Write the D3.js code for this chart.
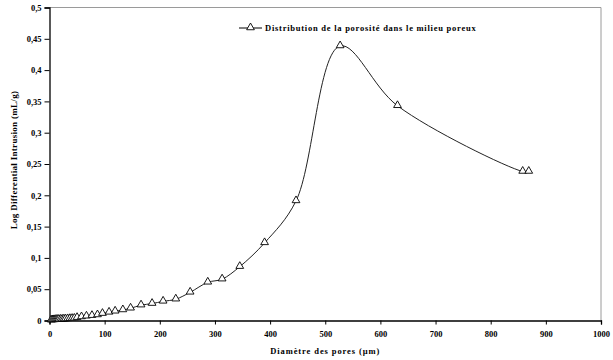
<!DOCTYPE html>
<html>
<head>
<meta charset="utf-8">
<script src="https://cdn.jsdelivr.net/npm/d3@7"></script>
<style>
  body { margin: 0; background: #fff; }
  text { font-family: "Liberation Serif", "Times New Roman", serif; font-weight: bold; }
</style>
</head>
<body>
<div id="root"></div>
<script>
// pore diameter (µm) and log differential intrusion (mL/g)
let diametre = [3, 5, 7, 9, 11, 13, 15, 17, 20, 23, 26, 29, 33, 37, 41, 45,
  50, 58, 67, 77, 87, 96, 108, 119, 133, 147, 166, 186, 206, 229, 255, 287,
  313, 345, 390, 447, 527, 631, 858, 869]
let intrusion = [0.0005, 0.0007, 0.0009, 0.001, 0.0012, 0.0013, 0.0014, 0.0015,
  0.0016, 0.0018, 0.002, 0.0022, 0.0025, 0.0028, 0.003, 0.0033,
  0.0045, 0.0056, 0.0067, 0.0077, 0.0088, 0.011, 0.013, 0.0147, 0.0168, 0.0195,
  0.0245, 0.027, 0.0306, 0.034, 0.045, 0.061, 0.066, 0.086, 0.124, 0.191,
  0.4385, 0.343, 0.238, 0.238]
let xTicks = [0, 100, 200, 300, 400, 500, 600, 700, 800, 900, 1000]
let yTicks = [0, 0.05, 0.1, 0.15, 0.2, 0.25, 0.3, 0.35, 0.4, 0.45, 0.5]
let seriesName = 'Distribution de la porosité dans le milieu poreux'

let W = 613, H = 360
let m = {l: 49.5, r: 12, t: 7.5, b: 39.5}

let svg = d3.select('#root').append('svg')
  .attr('width', W).attr('height', H)

let x = d3.scaleLinear().domain([0, 1000]).range([m.l, W - m.r])
let y = d3.scaleLinear().domain([0, 0.5]).range([H - m.b, m.t])

let fmt = d => String(d).replace('.', ',')

// frame (top & right grey)
svg.append('path')
   .attr('d', `M${x(0)},${y(0.5)}H${x(1000)}V${y(0)}`)
   .attr('fill', 'none').attr('stroke', '#9a9a9a').attr('stroke-width', 1)

let xAxis = svg.append('g')
  .attr('transform', `translate(0,${y(0)})`)
  .call(d3.axisBottom(x).tickValues(xTicks).tickSize(4).tickFormat(d3.format('d')))
let yAxis = svg.append('g')
  .attr('transform', `translate(${x(0)},0)`)
  .call(d3.axisLeft(y).tickValues(yTicks).tickSize(5).tickFormat(fmt))

for (let g of [xAxis, yAxis]) {
  g.select('.domain').attr('stroke', '#000').attr('stroke-width', 1.3)
  g.selectAll('.tick line').attr('stroke', '#000')
  g.selectAll('text').attr('font-size', 8.5).attr('fill', '#000')
    .style('font-family', '"Liberation Serif", serif').style('font-weight', 'bold')
}
xAxis.selectAll('text').attr('dy', '0').attr('y', 16)
yAxis.selectAll('text').attr('x', -8).attr('dy', '0.32em')

let pts = diametre.map((d, i) => [d, intrusion[i]])

svg.append('path')
   .datum(pts)
   .attr('d', d3.line().x(d => x(d[0])).y(d => y(d[1])).curve(d3.curveCatmullRom.alpha(0.5)))
   .attr('fill', 'none').attr('stroke', '#222').attr('stroke-width', 1)

let tri = d3.symbol().type(d3.symbolTriangle).size(26)
svg.selectAll('.pt')
   .data(pts).enter()
   .append('path')
   .attr('class', 'pt')
   .attr('d', tri)
   .attr('transform', d => `translate(${x(d[0])},${y(d[1]) - 0.5})`)
   .attr('fill', '#fff').attr('stroke', '#000').attr('stroke-width', 0.9)

// legend
let lg = svg.append('g').attr('transform', 'translate(239,28)')
lg.append('line').attr('x1', 0).attr('x2', 23).attr('stroke', '#000')
lg.append('path').attr('d', tri).attr('transform', 'translate(11.5,-0.5)')
  .attr('fill', '#fff').attr('stroke', '#000').attr('stroke-width', 0.9)
lg.append('text').attr('x', 26).attr('y', 3).attr('font-size', 8.5)
  .attr('letter-spacing', 0.75).text(seriesName)

// axis titles
svg.append('text')
   .attr('x', (x(0) + x(1000)) / 2).attr('y', 354)
   .attr('text-anchor', 'middle').attr('font-size', 8.5).attr('letter-spacing', 0.9)
   .text('Diamètre des pores (µm)')
svg.append('text')
   .attr('transform', 'translate(17,160) rotate(-90)')
   .attr('text-anchor', 'middle').attr('font-size', 9).attr('letter-spacing', 0.3)
   .text('Log Differential Intrusion  (mL/g)')
</script>
</body>
</html>
